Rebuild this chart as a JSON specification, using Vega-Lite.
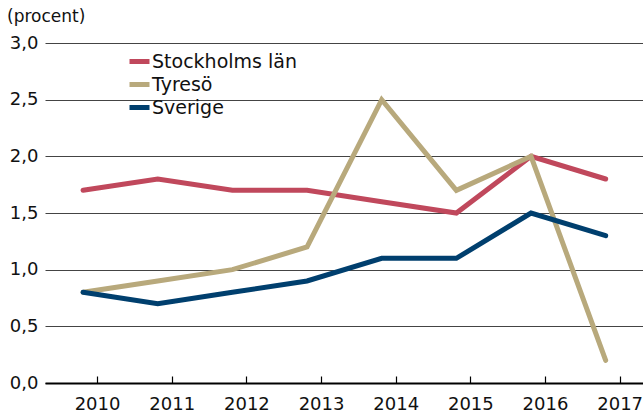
{
  "$schema": "https://vega.github.io/schema/vega-lite/v6.json",
  "width": 598,
  "height": 340,
  "autosize": {"type": "none"},
  "padding": {"left": 45, "top": 43, "right": 0, "bottom": 31},
  "background": "white",
  "title": {"text": "(procent)", "anchor": "start", "frame": "group", "dx": -38, "offset": 8, "fontSize": 17, "font": "DejaVu Sans", "fontWeight": "normal", "color": "#111"},
  "data": {"values": [
    {"year": 2010, "serie": "Stockholms län", "v": 1.7},
    {"year": 2011, "serie": "Stockholms län", "v": 1.8},
    {"year": 2012, "serie": "Stockholms län", "v": 1.7},
    {"year": 2013, "serie": "Stockholms län", "v": 1.7},
    {"year": 2014, "serie": "Stockholms län", "v": 1.6},
    {"year": 2015, "serie": "Stockholms län", "v": 1.5},
    {"year": 2016, "serie": "Stockholms län", "v": 2.0},
    {"year": 2017, "serie": "Stockholms län", "v": 1.8},
    {"year": 2010, "serie": "Tyresö", "v": 0.8},
    {"year": 2011, "serie": "Tyresö", "v": 0.9},
    {"year": 2012, "serie": "Tyresö", "v": 1.0},
    {"year": 2013, "serie": "Tyresö", "v": 1.2},
    {"year": 2014, "serie": "Tyresö", "v": 2.5},
    {"year": 2015, "serie": "Tyresö", "v": 1.7},
    {"year": 2016, "serie": "Tyresö", "v": 2.0},
    {"year": 2017, "serie": "Tyresö", "v": 0.2},
    {"year": 2010, "serie": "Sverige", "v": 0.8},
    {"year": 2011, "serie": "Sverige", "v": 0.7},
    {"year": 2012, "serie": "Sverige", "v": 0.8},
    {"year": 2013, "serie": "Sverige", "v": 0.9},
    {"year": 2014, "serie": "Sverige", "v": 1.1},
    {"year": 2015, "serie": "Sverige", "v": 1.1},
    {"year": 2016, "serie": "Sverige", "v": 1.5},
    {"year": 2017, "serie": "Sverige", "v": 1.3}
  ]},
  "mark": {"type": "line", "strokeWidth": 5, "strokeCap": "round", "strokeJoin": "miter"},
  "encoding": {
    "x": {
      "field": "year", "type": "quantitative",
      "scale": {"domain": [2009.49, 2017.5], "nice": false, "zero": false},
      "axis": {
        "values": [2010, 2011, 2012, 2013, 2014, 2015, 2016, 2017],
        "format": "d", "title": null, "grid": false,
        "tickOffset": 14, "tickSize": -7, "tickColor": "#000", "tickWidth": 1.2,
        "domainColor": "#000", "domainWidth": 2,
        "labelPadding": 19, "labelFontSize": 18, "labelFont": "DejaVu Sans", "labelColor": "#111",
        "labelFlush": false
      }
    },
    "y": {
      "field": "v", "type": "quantitative",
      "scale": {"domain": [0, 3], "nice": false},
      "axis": {
        "values": [0, 0.5, 1, 1.5, 2, 2.5, 3],
        "labelExpr": "replace(format(datum.value, '.1f'), '.', ',')",
        "title": null, "domain": false, "ticks": false,
        "grid": true, "gridColor": "#444", "gridWidth": 1,
        "labelPadding": 7, "labelFontSize": 18, "labelFont": "DejaVu Sans", "labelColor": "#111"
      }
    },
    "color": {
      "field": "serie", "type": "nominal",
      "scale": {"domain": ["Stockholms län", "Tyresö", "Sverige"], "range": ["#C0485C", "#B8A97C", "#003F6E"]},
      "legend": {
        "title": null, "orient": "none", "legendX": 82, "legendY": 6,
        "symbolType": "stroke", "symbolStrokeWidth": 5, "symbolSize": 400,
        "labelFontSize": 19, "labelFont": "DejaVu Sans", "labelColor": "#111",
        "rowPadding": 0, "labelOffset": 0
      }
    }
  },
  "config": {"view": {"stroke": null}}
}
